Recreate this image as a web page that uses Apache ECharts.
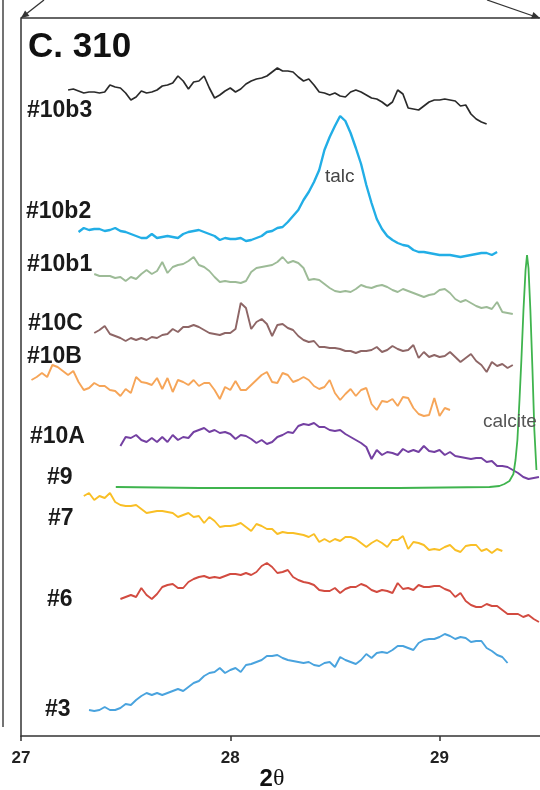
<!DOCTYPE html>
<html><head><meta charset="utf-8">
<script src="https://cdn.jsdelivr.net/npm/echarts@6/dist/echarts.min.js"></script>
<style>html,body{margin:0;padding:0;background:#fff}#c{width:540px;height:790px}</style>
</head><body><div id="c"></div>
<script>
// 2θ sampling step of the traces (degrees)
const STEP = 0.025;
const tickValues = [27, 28, 29];

// #10b3
const s10b3Start = 27.225;
const s10b3 = [646,647,645,643,644,644,643,644,651,649,648,643,636,639,645,643,644,646,650,651,653,660,655,647,654,655,660,648,638,641,645,648,644,647,652,655,657,658,660,664,668,665,665,664,659,655,657,651,644,643,641,643,640,639,644,646,644,641,638,637,634,630,634,646,642,628,627,626,630,634,636,636,637,636,635,630,631,622,617,614,612];
// #10b2 (talc peak)
const s10b2Start = 27.275;
const s10b2 = [504,508,506,507,507,505,506,508,505,504,502,500,498,498,502,498,499,500,499,498,502,504,505,506,504,502,500,496,498,497,497,498,495,496,498,500,504,505,508,509,514,520,526,536,544,554,566,586,599,610,620,615,603,588,572,551,533,517,507,500,496,493,491,490,486,484,484,483,482,481,481,481,480,479,480,481,482,483,483,481,484];
// #10b1
const s10b1Start = 27.35;
const s10b1 = [462,460,460,460,458,459,455,459,457,462,466,462,465,474,463,469,471,472,475,479,471,469,465,459,454,455,454,454,453,455,464,468,469,470,471,474,479,473,475,473,468,456,457,456,452,448,445,444,445,444,447,451,449,448,450,451,449,446,444,447,445,443,441,439,441,442,446,447,443,437,434,436,433,430,428,429,427,434,424,423,422];
// #10C
const s10CStart = 27.35;
const s10C = [403,406,410,402,400,398,395,398,396,398,396,399,398,401,402,407,404,409,409,411,409,406,403,402,401,403,403,407,433,428,407,414,417,412,400,411,412,408,406,400,396,394,395,389,389,388,388,387,385,385,383,385,385,386,389,384,386,390,387,385,386,391,378,384,379,381,379,380,384,379,374,378,382,375,371,364,374,370,372,368,371];
// #10B
const s10BStart = 27.05;
const s10B = [356,359,363,359,371,369,365,361,365,354,346,348,353,350,350,346,345,340,347,343,359,354,353,351,358,347,358,344,356,354,351,356,350,353,353,346,337,349,346,355,346,346,351,356,361,364,354,353,363,361,354,356,359,356,350,347,349,356,343,336,342,347,340,346,348,332,326,335,334,337,330,339,338,328,322,320,321,338,320,328,326];
// #10A
const s10AStart = 27.475;
const s10A = [290,299,298,301,296,294,298,294,299,294,301,296,299,298,304,306,308,304,306,303,304,302,297,301,300,297,293,296,292,294,299,301,304,303,310,312,311,313,309,309,306,305,306,302,299,296,293,289,277,286,281,284,283,281,287,284,286,284,290,285,284,286,281,284,280,279,278,277,278,278,274,275,270,270,269,266,263,259,257,258,259];
// #9 (calcite peak), irregular sampling
const s9TwoTheta = [27.453,27.854,28.332,28.809,29.239,29.286,29.310,29.334,29.353,29.363,29.372,29.382,29.391,29.401,29.411,29.418,29.425,29.434,29.444,29.453,29.463];
const s9 = [249,248,248,248,249,250,252,255,262,276,296,336,376,426,466,481,468,426,366,306,266];
// #7
const s7Start = 27.3;
const s7 = [240,243,236,240,238,243,234,231,230,230,231,227,223,224,225,225,224,223,219,221,223,219,220,213,219,215,209,210,210,211,213,209,205,212,210,207,207,202,204,203,203,202,201,199,202,194,197,194,197,195,199,199,197,193,189,193,196,193,189,196,196,200,187,194,193,191,186,187,186,189,191,186,184,190,191,191,185,187,183,187,185];
// #6
const s6Start = 27.475;
const s6 = [137,139,141,139,148,141,137,142,149,151,152,148,148,154,157,159,160,158,159,158,160,162,162,161,163,161,164,170,173,169,163,164,166,159,156,154,153,151,146,145,145,148,143,147,149,149,152,150,146,144,146,145,143,153,147,148,146,151,149,149,150,150,147,145,139,143,135,131,129,129,132,130,130,126,122,122,122,119,121,117,114];
// #3
const s3Start = 27.325;
const s3 = [26,25,26,29,26,26,28,32,31,36,40,43,41,43,41,43,45,47,45,49,53,55,60,63,64,68,63,66,68,64,71,72,74,76,80,80,81,78,76,75,74,73,74,71,70,73,74,69,79,76,74,72,76,82,78,83,84,83,86,90,90,88,86,93,96,97,97,99,102,100,97,99,98,94,95,95,88,85,81,79,73];

const sampleLabels = ['#10b3','#10b2','#10b1','#10C','#10B','#10A','#9','#7','#6','#3'];

const uniform = (start, vals) => vals.map((v, i) => [+(start + i * STEP).toFixed(3), v]);
const paired = (xs, vals) => vals.map((v, i) => [xs[i], v]);

const traces = [
  { name: '#10b3', color: '#2a2a2a', width: 1.7, data: uniform(s10b3Start, s10b3) },
  { name: '#10b2', color: '#22aee6', width: 2.4, data: uniform(s10b2Start, s10b2) },
  { name: '#10b1', color: '#9dbb97', width: 1.9, data: uniform(s10b1Start, s10b1) },
  { name: '#10C', color: '#8e6666', width: 1.9, data: uniform(s10CStart, s10C) },
  { name: '#10B', color: '#f6a558', width: 1.9, data: uniform(s10BStart, s10B) },
  { name: '#10A', color: '#7440a2', width: 2.0, data: uniform(s10AStart, s10A) },
  { name: '#9', color: '#3fb44e', width: 1.8, data: paired(s9TwoTheta, s9) },
  { name: '#7', color: '#f9bf26', width: 1.9, data: uniform(s7Start, s7) },
  { name: '#6', color: '#d24b40', width: 1.9, data: uniform(s6Start, s6) },
  { name: '#3', color: '#49a3de', width: 1.9, data: uniform(s3Start, s3) }
];

// label layout (pixel positions of the sample names)
const labelLayout = [[27,111],[26,212],[27,265],[28,324],[27,357],[30,437],[47,478],[48,519],[47,600],[45,710]];

const FONT = "'Liberation Sans', Arial, Helvetica, sans-serif";
const graphics = [];
sampleLabels.forEach((t, i) => {
  graphics.push({ type: 'text', x: labelLayout[i][0], y: labelLayout[i][1], z: 100,
    style: { text: t, fontSize: 23, fontWeight: 'bold', fontFamily: FONT, fill: '#1a1a1a', verticalAlign: 'middle', align: 'left' } });
});
graphics.push(
  { type: 'text', x: 28, y: 47, z: 100, style: { text: 'C. 310', fontSize: 35, fontWeight: 'bold', fontFamily: FONT, fill: '#111', verticalAlign: 'middle' } },
  { type: 'text', x: 325, y: 177, z: 100, style: { text: 'talc', fontSize: 19, fontFamily: FONT, fill: '#444', verticalAlign: 'middle' } },
  { type: 'text', x: 483, y: 422, z: 100, style: { text: 'calcite', fontSize: 19, fontFamily: FONT, fill: '#555', verticalAlign: 'middle' } },
  { type: 'text', x: 272, y: 779, z: 100, style: { text: '{a|2}{b|θ}', align: 'center', verticalAlign: 'middle',
      rich: { a: { fontSize: 24, fontWeight: 'bold', fontFamily: FONT, fill: '#111' }, b: { fontSize: 24, fontFamily: "'Liberation Serif', 'DejaVu Serif', serif", fill: '#111' } } } },
  // frame bracket at top
  { type: 'line', z: 100, shape: { x1: 21, y1: 18, x2: 540, y2: 18 }, style: { stroke: '#333', lineWidth: 1.5 } },
  { type: 'line', z: 100, shape: { x1: 21, y1: 18, x2: 44, y2: 0 }, style: { stroke: '#333', lineWidth: 1.3 } },
  { type: 'polygon', z: 100, shape: { points: [[21,18],[29.5,15.9],[25.1,10.4]] }, style: { fill: '#333' } },
  { type: 'line', z: 100, shape: { x1: 487, y1: 0, x2: 539, y2: 18 }, style: { stroke: '#333', lineWidth: 1.3 } },
  { type: 'polygon', z: 100, shape: { points: [[540,18],[531,18.6],[533.4,11.9]] }, style: { fill: '#333' } },
  // neighbouring panel edge
  { type: 'line', z: 100, shape: { x1: 3, y1: 0, x2: 3, y2: 727 }, style: { stroke: '#444', lineWidth: 1.5 } }
);

const chart = echarts.init(document.getElementById('c'), null, { renderer: 'canvas' });
chart.setOption({
  animation: false,
  backgroundColor: '#fff',
  grid: { left: 21, right: 0, top: 18, bottom: 54, containLabel: false },
  xAxis: {
    type: 'value', min: 27, max: 29.48, interval: 1,
    axisLine: { show: true, onZero: false, lineStyle: { color: '#333', width: 1.5 } },
    axisTick: { show: true, length: 5, customValues: tickValues, lineStyle: { color: '#333', width: 1.5 } },
    axisLabel: { customValues: tickValues, margin: 14, fontSize: 17, fontWeight: 'bold', color: '#222', fontFamily: FONT },
    splitLine: { show: false }
  },
  yAxis: {
    type: 'value', min: 0, max: 718,
    axisLine: { show: true, lineStyle: { color: '#333', width: 1.5 } },
    axisTick: { show: false }, axisLabel: { show: false }, splitLine: { show: false }
  },
  series: traces.map(t => ({
    name: t.name, type: 'line', data: t.data, showSymbol: false, symbol: 'none', smooth: false,
    lineStyle: { color: t.color, width: t.width }, itemStyle: { color: t.color }, clip: true
  })),
  graphic: graphics
});
</script></body></html>
